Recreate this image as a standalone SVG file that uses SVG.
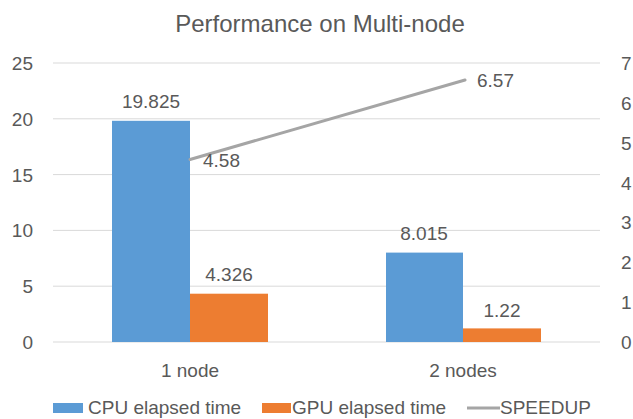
<svg xmlns="http://www.w3.org/2000/svg" width="633" height="419" viewBox="0 0 633 419">
<style>
text{font-family:"Liberation Sans",Arial,sans-serif;fill:#595959;font-size:19px}
.grid{stroke:#d9d9d9;stroke-width:1}
.cpu{fill:#5b9bd5}
.gpu{fill:#ed7d31}
.lbl{text-anchor:middle}
.yl{text-anchor:end}
</style>
<rect width="633" height="419" fill="#ffffff"/>
<text x="320" y="32" class="lbl" style="font-size:24px">Performance on Multi-node</text>
<g id="gridlines">
<line class="grid" x1="53" y1="63" x2="600" y2="63"/>
<line class="grid" x1="53" y1="118.8" x2="600" y2="118.8"/>
<line class="grid" x1="53" y1="174.6" x2="600" y2="174.6"/>
<line class="grid" x1="53" y1="230.4" x2="600" y2="230.4"/>
<line class="grid" x1="53" y1="286.2" x2="600" y2="286.2"/>
<line class="grid" x1="53" y1="342" x2="600" y2="342"/>
</g>
<g id="left-axis">
<text x="33" y="70" class="yl">25</text>
<text x="33" y="125.8" class="yl">20</text>
<text x="33" y="181.6" class="yl">15</text>
<text x="33" y="237.4" class="yl">10</text>
<text x="33" y="293.2" class="yl">5</text>
<text x="33" y="349" class="yl">0</text>
</g>
<g id="right-axis">
<text x="621" y="70">7</text>
<text x="621" y="109.9">6</text>
<text x="621" y="149.7">5</text>
<text x="621" y="189.6">4</text>
<text x="621" y="229.4">3</text>
<text x="621" y="269.3">2</text>
<text x="621" y="309.1">1</text>
<text x="621" y="349">0</text>
</g>
<g id="bar-cpu-1node">
<rect class="cpu" x="112" y="120.8" width="78" height="221.2"/>
<text x="151" y="108" class="lbl">19.825</text>
</g>
<g id="bar-gpu-1node">
<rect class="gpu" x="190" y="293.7" width="78" height="48.3"/>
<text x="229" y="281" class="lbl">4.326</text>
</g>
<g id="bar-cpu-2nodes">
<rect class="cpu" x="386" y="252.6" width="77" height="89.4"/>
<text x="424" y="240" class="lbl">8.015</text>
</g>
<g id="bar-gpu-2nodes">
<rect class="gpu" x="463" y="328.4" width="78" height="13.6"/>
<text x="502" y="317" class="lbl">1.22</text>
</g>
<g id="connectors">
<line x1="190" y1="159.5" x2="465" y2="80" stroke="#a5a5a5" stroke-width="3" stroke-linecap="round"/>
</g>
<g id="speedup-labels">
<text x="203" y="167">4.58</text>
<text x="477" y="87">6.57</text>
</g>
<g id="categories">
<text x="190" y="377" class="lbl">1 node</text>
<text x="463" y="377" class="lbl">2 nodes</text>
</g>
<g id="legend">
<rect class="cpu" x="53" y="403" width="30" height="10"/>
<text x="88" y="414">CPU elapsed time</text>
<rect class="gpu" x="262" y="403" width="29" height="10"/>
<text x="292" y="414">GPU elapsed time</text>
<line x1="467" y1="408" x2="500" y2="408" stroke="#a5a5a5" stroke-width="3"/>
<text x="500" y="414">SPEEDUP</text>
</g>
</svg>
